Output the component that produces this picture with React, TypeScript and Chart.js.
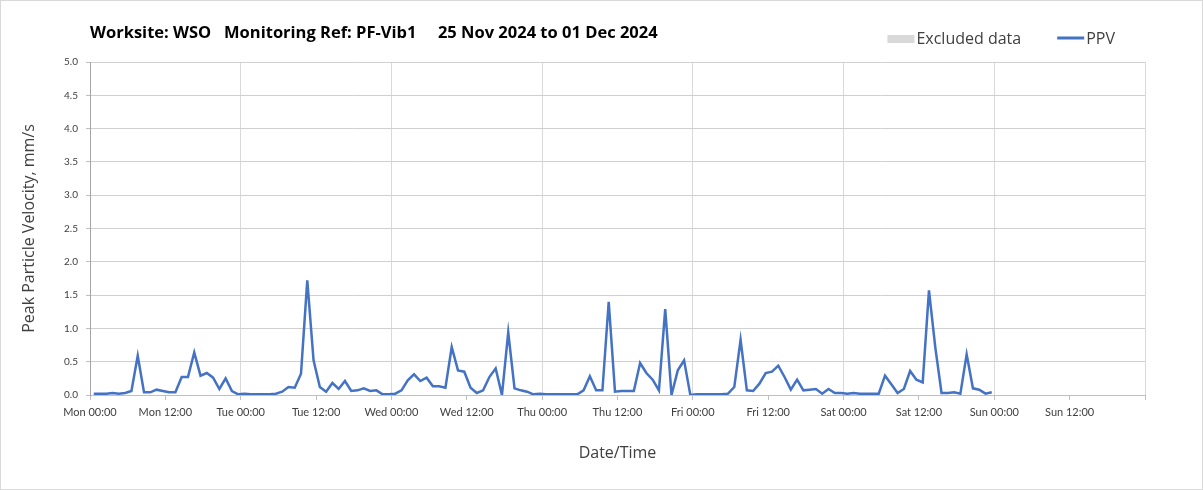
import React, { useEffect, useRef } from "react";
import { Chart, registerables } from "chart.js";

Chart.register(...registerables);

const FONT = "Lato, 'Open Sans', sans-serif";
const FONT_WIDE = "'Open Sans', Lato, sans-serif";

const titleText = "Worksite: WSO   Monitoring Ref: PF-Vib1     25 Nov 2024 to 01 Dec 2024";
const xAxisTitle = "Date/Time";
const yAxisTitle = "Peak Particle Velocity, mm/s";

// tick labels every 12 hours, starting Mon 00:00
const xTickLabels = [
  "Mon 00:00", "Mon 12:00", "Tue 00:00", "Tue 12:00", "Wed 00:00", "Wed 12:00",
  "Thu 00:00", "Thu 12:00", "Fri 00:00", "Fri 12:00", "Sat 00:00", "Sat 12:00",
  "Sun 00:00", "Sun 12:00",
];

// hourly PPV samples (mm/s), first sample ~00:36 Monday
const firstSampleHour = 0.6;
const sampleIntervalHours = 1;
const ppv = [
  0.02, 0.02, 0.02, 0.03, 0.02, 0.03, 0.06, 0.59, 0.04, 0.04,
  0.08, 0.06, 0.04, 0.04, 0.27, 0.27, 0.64, 0.29, 0.33, 0.26,
  0.09, 0.25, 0.06, 0.01, 0.02, 0.01, 0.01, 0.01, 0.01, 0.02,
  0.05, 0.12, 0.11, 0.32, 1.72, 0.52, 0.12, 0.05, 0.18, 0.09,
  0.21, 0.06, 0.07, 0.10, 0.06, 0.07, 0.01, 0.01, 0.02, 0.07,
  0.22, 0.31, 0.21, 0.26, 0.13, 0.13, 0.11, 0.72, 0.37, 0.35,
  0.11, 0.03, 0.07, 0.27, 0.40, 0.00, 0.94, 0.10, 0.07, 0.05,
  0.01, 0.02, 0.01, 0.01, 0.01, 0.01, 0.01, 0.01, 0.07, 0.28,
  0.07, 0.07, 1.40, 0.05, 0.06, 0.06, 0.06, 0.48, 0.33, 0.23,
  0.07, 1.29, 0.00, 0.37, 0.52, 0.00, 0.01, 0.01, 0.01, 0.01,
  0.01, 0.02, 0.12, 0.83, 0.07, 0.06, 0.17, 0.33, 0.35, 0.44,
  0.27, 0.08, 0.23, 0.07, 0.08, 0.09, 0.02, 0.09, 0.03, 0.03,
  0.02, 0.03, 0.02, 0.02, 0.02, 0.02, 0.29, 0.16, 0.03, 0.09,
  0.36, 0.23, 0.19, 1.57, 0.72, 0.03, 0.03, 0.04, 0.02, 0.61,
  0.10, 0.08, 0.02, 0.04,
];

const excludedData: { x: number; y: number }[] = [];

const titleLegendPlugin = {
  id: "titleLegend",
  afterDraw(chart: any) {
    const { ctx } = chart;
    ctx.save();
    ctx.font = `bold 16.5px ${FONT_WIDE}`;
    ctx.fillStyle = "#000000";
    ctx.textAlign = "left";
    ctx.textBaseline = "alphabetic";
    ctx.fillText(titleText, chart.chartArea.left, 38);

    ctx.font = `16px ${FONT_WIDE}`;
    const items = chart.data.datasets.map((ds: any) => ({
      label: ds.label,
      kind: ds.type === "bar" ? "box" : "line",
      color: ds.type === "bar" ? ds.backgroundColor : ds.borderColor,
    }));
    const symbolW = 27;
    const gap = 2;
    const itemGap = 36;
    const widths = items.map((it: any) => symbolW + gap + ctx.measureText(it.label).width);
    const total = widths.reduce((a: number, b: number) => a + b, 0) + itemGap * (items.length - 1);
    let x = 1115 - total;
    const cy = 39;
    ctx.textBaseline = "middle";
    items.forEach((it: any, i: number) => {
      if (it.kind === "box") {
        ctx.fillStyle = it.color;
        ctx.fillRect(x, cy - 4, symbolW, 8);
      } else {
        ctx.strokeStyle = it.color;
        ctx.lineWidth = 3;
        ctx.beginPath();
        ctx.moveTo(x, cy - 1);
        ctx.lineTo(x + symbolW, cy - 1);
        ctx.stroke();
      }
      ctx.fillStyle = "#404040";
      ctx.fillText(it.label, x + symbolW + gap, cy);
      x += widths[i] + itemGap;
    });
    ctx.restore();
  },
};

export default function App() {
  const canvasRef = useRef<HTMLCanvasElement>(null);

  useEffect(() => {
    const canvas = canvasRef.current;
    if (!canvas) return;
    const points = ppv.map((v, i) => ({ x: firstSampleHour + i * sampleIntervalHours, y: v }));

    const chart = new Chart(canvas, {
      type: "line",
      data: {
        datasets: [
          {
            type: "bar",
            label: "Excluded data",
            data: excludedData,
            backgroundColor: "#d9d9d9",
            borderWidth: 0,
          } as any,
          {
            type: "line",
            label: "PPV",
            data: points,
            borderColor: "#4472c4",
            backgroundColor: "#4472c4",
            borderWidth: 2.5,
            pointRadius: 0,
            tension: 0,
          },
        ],
      },
      options: {
        animation: false,
        responsive: false,
        devicePixelRatio: 1,
        layout: { padding: { left: 20, right: 58, top: 62, bottom: 20 } },
        plugins: {
          legend: { display: false },
          title: { display: false },
          tooltip: { enabled: false },
        },
        scales: {
          x: {
            type: "linear",
            min: 0,
            max: 168,
            offset: false,
            afterFit: (scale: any) => {
              scale.height = 75;
            },
            ticks: {
              stepSize: 12,
              autoSkip: false,
              maxRotation: 0,
              padding: 6,
              color: "#404040",
              font: { family: FONT, size: 11 },
              callback: (value: any) => {
                const idx = Math.round(Number(value) / 12);
                return xTickLabels[idx] ?? "";
              },
            },
            grid: {
              offset: false,
              color: (ctx: any) =>
                ctx.tick && Math.round(ctx.tick.value) % 24 === 0 ? "#d9d9d9" : "rgba(0,0,0,0)",
              tickColor: "#bfbfbf",
              tickLength: 5,
              lineWidth: 1,
            },
            border: { color: "#bfbfbf", width: 1 },
            title: {
              display: true,
              text: xAxisTitle,
              color: "#404040",
              font: { family: FONT_WIDE, size: 16 },
              padding: { top: 4, bottom: 7 },
            },
          },
          y: {
            type: "linear",
            min: 0,
            max: 5,
            afterFit: (scale: any) => {
              scale.width = 70;
            },
            ticks: {
              stepSize: 0.5,
              padding: 8,
              color: "#404040",
              font: { family: FONT, size: 10 },
              callback: (value: any) => Number(value).toFixed(1),
            },
            grid: {
              color: "#d0d0d0",
              tickColor: "#bfbfbf",
              tickLength: 4,
              lineWidth: 1,
            },
            border: { color: "#a6a6a6", width: 1 },
            title: {
              display: true,
              text: yAxisTitle,
              color: "#404040",
              font: { family: FONT_WIDE, size: 16 },
              padding: { top: 0, bottom: 4 },
            },
          },
        },
      },
      plugins: [titleLegendPlugin],
    });

    return () => chart.destroy();
  }, []);

  return (
    <div
      style={{
        position: "absolute",
        left: 0,
        top: 0,
        width: 1203,
        height: 490,
        background: "#ffffff",
        boxShadow: "inset 0 0 0 1px #d9d9d9",
      }}
    >
      <canvas ref={canvasRef} width={1203} height={490} style={{ display: "block" }} />
    </div>
  );
}
